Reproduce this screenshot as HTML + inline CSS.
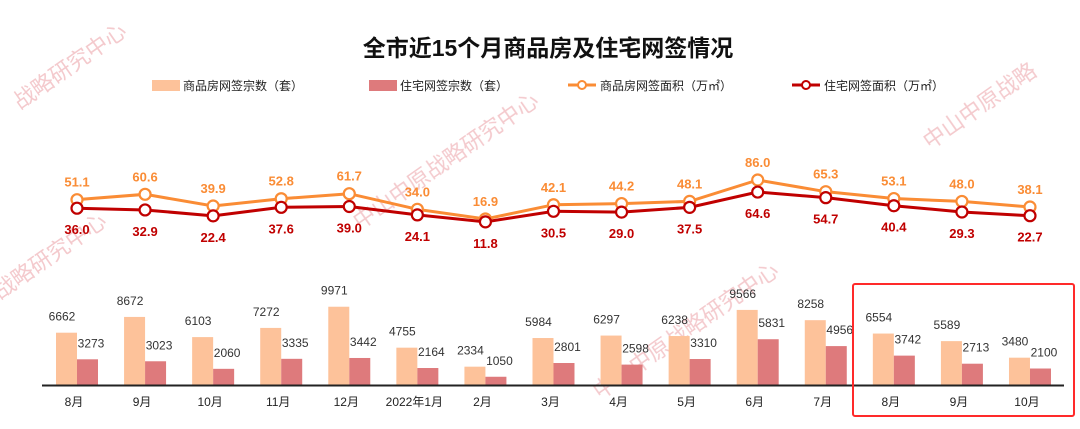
<!DOCTYPE html>
<html><head><meta charset="utf-8">
<style>
body{margin:0;background:#fff;width:1080px;height:424px;overflow:hidden;font-family:"Liberation Sans","Noto Sans CJK SC",sans-serif}
svg text{font-family:"Liberation Sans","Noto Sans CJK SC",sans-serif}
</style></head><body>
<svg id="chart" width="1080" height="424" xmlns="http://www.w3.org/2000/svg">
<g fill="#f0b8bd" font-size="22" opacity="0.75">
<text x="20" y="110" transform="rotate(-35 20 110)">战略研究中心</text>
<text x="360" y="230" transform="rotate(-35 360 230)">中山中原战略研究中心</text>
<text x="600" y="400" transform="rotate(-35 600 400)">中山中原战略研究中心</text>
<text x="930" y="150" transform="rotate(-35 930 150)">中山中原战略</text>
<text x="0" y="300" transform="rotate(-35 0 300)">战略研究中心</text>
</g>
<text x="548" y="56" text-anchor="middle" font-size="23" font-weight="bold" fill="#111">全市近15个月商品房及住宅网签情况</text>
<g font-size="12" fill="#222">
<g><rect x="152" y="80" width="28" height="11" fill="#fdc29a"/><text x="183" y="90">商品房网签宗数（套）</text></g>
<g><rect x="369" y="80" width="28" height="11" fill="#de7a7c"/><text x="400" y="90">住宅网签宗数（套）</text></g>
<g><line x1="568" y1="85" x2="596" y2="85" stroke="#fa8c35" stroke-width="3"/><circle cx="582" cy="85" r="4" fill="#fff" stroke="#fa8c35" stroke-width="2"/><text x="600" y="90">商品房网签面积（万㎡）</text></g>
<g><line x1="792" y1="85" x2="820" y2="85" stroke="#c00000" stroke-width="3"/><circle cx="806" cy="85" r="4" fill="#fff" stroke="#c00000" stroke-width="2"/><text x="824" y="90">住宅网签面积（万㎡）</text></g>
</g>
<g id="bars"></g><g id="lines"></g>
<line x1="42" y1="385.5" x2="1064" y2="385.5" stroke="#222" stroke-width="2"/>
<rect x="853" y="284" width="221" height="132" rx="2" fill="none" stroke="#ff2a2a" stroke-width="2"/>
</svg>
<script>
const categories=["8月","9月","10月","11月","12月","2022年1月","2月","3月","4月","5月","6月","7月","8月","9月","10月"];
const commercialCount=[6662,8672,6103,7272,9971,4755,2334,5984,6297,6238,9566,8258,6554,5589,3480];
const residentialCount=[3273,3023,2060,3335,3442,2164,1050,2801,2598,3310,5831,4956,3742,2713,2100];
const commercialArea=[51.1,60.6,39.9,52.8,61.7,34.0,16.9,42.1,44.2,48.1,86.0,65.3,53.1,48.0,38.1];
const residentialArea=[36.0,32.9,22.4,37.6,39.0,24.1,11.8,30.5,29.0,37.5,64.6,54.7,40.4,29.3,22.7];
const NS="http://www.w3.org/2000/svg";
const xc=i=>77+i*68.07;
const yb=v=>385-v*0.00785;
const yl=v=>228.5-v*0.564;
function mk(tag,attrs,parent,txt){const e=document.createElementNS(NS,tag);for(const k in attrs)e.setAttribute(k,attrs[k]);if(txt!==undefined)e.textContent=txt;parent.appendChild(e);return e;}
const bars=document.getElementById('bars'),lines=document.getElementById('lines');
categories.forEach((c,i)=>{
  const x=xc(i);
  let b=mk('rect',{x:x-21,y:yb(commercialCount[i]),width:21,height:385-yb(commercialCount[i]),fill:'#fdc29a'},bars);
  
  
  b=mk('rect',{x:x,y:yb(residentialCount[i]),width:21,height:385-yb(residentialCount[i]),fill:'#de7a7c'},bars);
  
  
  let t=mk('text',{x:x-15,y:yb(commercialCount[i])-12,'text-anchor':'middle','font-size':12,fill:'#333'},bars,commercialCount[i]);
  
  
  t=mk('text',{x:x+14,y:yb(residentialCount[i])-12,'text-anchor':'middle','font-size':12,fill:'#333'},bars,residentialCount[i]);
  
  
  t=mk('text',{x:x-3,y:406,'text-anchor':'middle','font-size':12,fill:'#222'},bars,c);
  
  
});
function series(vals,color,name,above){
  const p=mk('polyline',{points:vals.map((v,i)=>xc(i)+','+yl(v)).join(' '),fill:'none',stroke:color,'stroke-width':3},lines);
  
  
  vals.forEach((v,i)=>{
    const c=mk('circle',{cx:xc(i),cy:yl(v),r:5.5,fill:'#fff',stroke:color,'stroke-width':2.2},lines);
    
    
    const t=mk('text',{x:xc(i),y:above?yl(v)-13:yl(v)+26,'text-anchor':'middle','font-size':13,'font-weight':'bold',fill:color},lines,v.toFixed(1));
    
    
  });
}
series(commercialArea,'#fa8c35','commercial-area',true);
series(residentialArea,'#c00000','residential-area',false);
</script>
</body></html>
